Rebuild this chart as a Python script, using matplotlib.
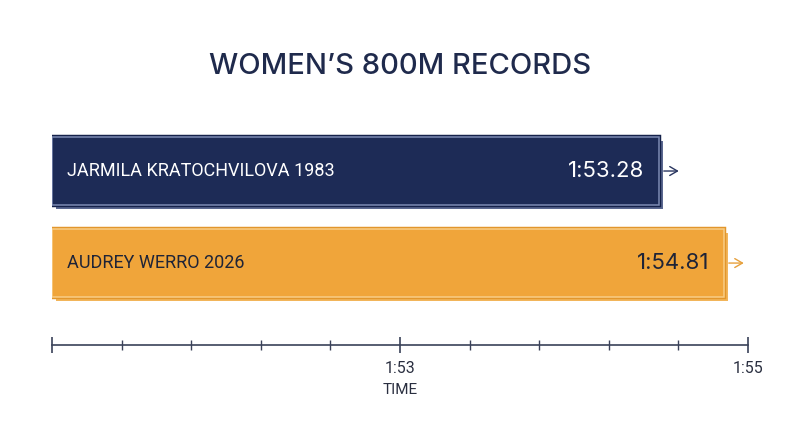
import matplotlib
matplotlib.use("Agg")
import matplotlib.pyplot as plt
import matplotlib.patheffects as pe
from matplotlib import font_manager
from matplotlib.transforms import offset_copy

# ---- data ----
athletes = ["JARMILA KRATOCHVILOVA 1983", "AUDREY WERRO 2026"]
times_sec = [113.28, 114.81]
time_labels = ["1:53.28", "1:54.81"]
axis_ticks = [111, 113, 115]
axis_tick_labels = ["", "1:53", "1:55"]
title = "WOMEN\u2019S 800M RECORDS"
xlabel = "TIME"

names = {f.name for f in font_manager.fontManager.ttflist}
narrow = "Liberation Sans Narrow" if "Liberation Sans Narrow" in names else "Roboto"
main_font = "Inter" if "Inter" in names else "DejaVu Sans"
label_size = 15.0 if narrow == "Liberation Sans Narrow" else 13.0

navy = "#1d2b56"
navy_dark = "#15214a"
navy_edge = "#7d8bb3"
orange = "#f0a53a"
orange_dark = "#e2962c"
orange_edge = "#f9cd86"
ink = "#1f2a4c"

fills = [navy, orange]
darks = [navy_dark, orange_dark]
edges = [navy_edge, orange_edge]
shadow1 = ["#5b6890", "#f2b55a"]
shadow2 = ["#2c3a66", "#eea23c"]
text_cols = ["#ffffff", "#1f2437"]
arrow_cols = ["#2a3660", "#e6a03c"]

W, H = 800, 447
fig = plt.figure(figsize=(W / 100, H / 100), dpi=100)
fig.patch.set_facecolor("white")

# bar axes (bar lengths as drawn in the reference)
ax = fig.add_axes([52 / W, 1 - 310 / H, 696 / W, 185 / H])
ax.set_xlim(99, 115.38)
ax.set_ylim(1.51, -0.5)
ax.axis("off")

ypos = list(range(len(athletes)))
for i, (t, name, lab) in enumerate(zip(times_sec, athletes, time_labels)):
    bars = ax.barh(ypos[i], t - 99, left=99, height=0.74, color=fills[i],
                   edgecolor=edges[i], linewidth=1.1, zorder=3)
    bars[0].set_path_effects([
        pe.SimplePatchShadow(offset=(3.2, -3.0), shadow_rgbFace=shadow1[i], alpha=1.0, rho=1),
        pe.SimplePatchShadow(offset=(1.6, -1.5), shadow_rgbFace=shadow2[i], alpha=1.0, rho=1),
        pe.Stroke(linewidth=3.2, foreground=darks[i]),
        pe.Normal(),
    ])
    ax.text(99, ypos[i], name,
            transform=offset_copy(ax.transData, fig, x=15, y=0, units="dots"),
            ha="left", va="center", color=text_cols[i], fontsize=label_size,
            family=narrow, zorder=5)
    ax.text(t, ypos[i], lab,
            transform=offset_copy(ax.transData, fig, x=-14, y=0, units="dots"),
            ha="right", va="center", color=text_cols[i], fontsize=16,
            family=main_font, zorder=5)
    ax.annotate("", xy=(t, ypos[i]),
                xycoords=offset_copy(ax.transData, fig, x=20, y=0, units="dots"),
                xytext=(t, ypos[i]),
                textcoords=offset_copy(ax.transData, fig, x=5, y=0, units="dots"),
                arrowprops=dict(arrowstyle="->,head_length=0.55,head_width=0.32",
                                color=arrow_cols[i], lw=1.0, shrinkA=0, shrinkB=0),
                zorder=4)

# time axis
axx = fig.add_axes([52 / W, 1 - 345 / H, 696 / W, 0.0001])
axx.set_xlim(111, 115)
for s in ["top", "left", "right"]:
    axx.spines[s].set_visible(False)
axx.spines["bottom"].set_color("#3a4259")
axx.spines["bottom"].set_linewidth(1.2)
axx.set_yticks([])
axx.set_xticks(axis_ticks)
axx.set_xticklabels(axis_tick_labels)
axx.set_xticks([111 + 0.4 * k for k in range(11)], minor=True)
axx.tick_params(axis="x", which="major", direction="inout", length=11, width=1.2,
                color="#3a4259", labelsize=11.5, labelcolor="#2a2f40", pad=6)
axx.tick_params(axis="x", which="minor", direction="inout", length=7, width=1.0,
                color="#3a4259")
for lbl in axx.get_xticklabels():
    lbl.set_family(narrow)
axx.set_xlabel(xlabel, fontsize=11, color="#2a2f40", family=narrow, labelpad=5)
axx.set_facecolor("none")

fig.text(0.5, 1 - 66 / H, title, ha="center", va="center", fontsize=21,
         color=ink, family=main_font, fontweight="medium")

fig.savefig("out.png", dpi=100, facecolor="white")
